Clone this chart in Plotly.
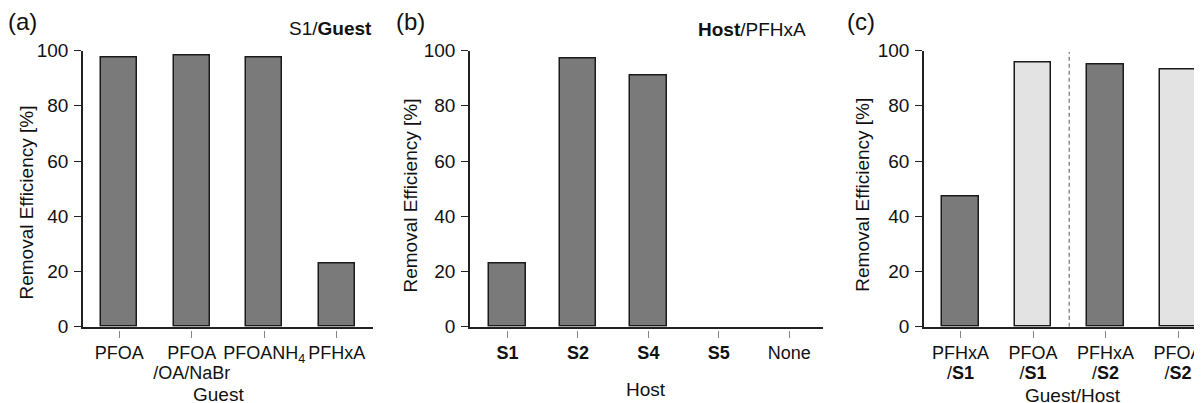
import plotly.graph_objects as go
import numpy as np

# ---- data ----
guest_line1 = ["PFOA", "PFOA", "PFOANH<sub>4</sub>", "PFHxA"]
guest_line2 = ["", "/OA/NaBr", "", ""]
guest_values = [97.6, 98.2, 97.6, 23.0]

host_labels = ["<b>S1</b>", "<b>S2</b>", "<b>S4</b>", "<b>S5</b>", "None"]
host_values = [22.9, 97.0, 90.8, 0.0, 0.0]

gh_line1 = ["PFHxA", "PFOA", "PFHxA", "PFOA"]
gh_line2 = ["/<b>S1</b>", "/<b>S1</b>", "/<b>S2</b>", "/<b>S2</b>"]
gh_values = [47.0, 95.8, 95.1, 93.3]
gh_colors = ["#7a7a7a", "#e3e3e3", "#7a7a7a", "#e3e3e3"]

y_ticks = [0, 20, 40, 60, 80, 100]

# ---- layout helpers ----
W, H = 1202, 403
OFF = 8  # page body margin offset
FONT = "Liberation Sans, Arial, Helvetica, sans-serif"
DARK = "#7a7a7a"
EDGE = "#1a1a1a"
AXC = "#222222"
TICKC = "#888888"

def px_x(p):
    return (p - OFF) / W

def px_y(p):
    return (H - (p - OFF)) / H

ydom = [px_y(326.7), px_y(50.6)]
tickpos = px_y(329.7)

def edge_widths(vals):
    return [1.5 if v > 0 else 0 for v in vals]

fig = go.Figure()

xa = np.arange(len(guest_values))
xb = np.arange(len(host_values))
xc = np.arange(len(gh_values))

fig.add_trace(go.Bar(x=xa, y=guest_values, width=0.5,
                     marker=dict(color=DARK, line=dict(color=EDGE, width=edge_widths(guest_values))),
                     xaxis="x", yaxis="y", showlegend=False))
fig.add_trace(go.Bar(x=xb, y=host_values, width=0.518,
                     marker=dict(color=DARK, line=dict(color=EDGE, width=edge_widths(host_values))),
                     xaxis="x2", yaxis="y2", showlegend=False))
fig.add_trace(go.Bar(x=xc, y=gh_values, width=0.503,
                     marker=dict(color=gh_colors, line=dict(color=EDGE, width=edge_widths(gh_values))),
                     xaxis="x3", yaxis="y3", showlegend=False))

# invisible traces so the tick-only overlay axes are drawn
for xs, ys, xax, yax in [(xa, guest_values, "x4", "y"), (xb, host_values, "x5", "y2"), (xc, gh_values, "x6", "y3")]:
    fig.add_trace(go.Scatter(x=xs, y=ys, xaxis=xax, yaxis=yax, mode="markers",
                             marker=dict(opacity=0), showlegend=False, hoverinfo="skip"))

tickfont = dict(family=FONT, size=19, color="#111111")
xtickfont = dict(family=FONT, size=18, color="#111111")

def main_x(dom, rng, anchor, vals, text, standoff):
    return dict(domain=dom, range=rng, anchor=anchor, type="linear",
                tickmode="array", tickvals=list(vals), ticktext=text, tickangle=0,
                ticks="", showline=True, linecolor=AXC, linewidth=1.5,
                showgrid=False, zeroline=False, tickfont=xtickfont, automargin=False,
                ticklabelstandoff=standoff, fixedrange=True)

def tick_x(dom, rng, over, vals, text, standoff, show=True):
    return dict(domain=dom, range=rng, overlaying=over, anchor="free", position=tickpos,
                type="linear", tickmode="array", tickvals=list(vals), ticktext=text, tickangle=0,
                ticks="outside", ticklen=7, tickwidth=1.3, tickcolor=TICKC,
                showline=False, showgrid=False, zeroline=False, tickfont=xtickfont, automargin=False,
                showticklabels=show, ticklabelstandoff=standoff, fixedrange=True)

def main_y(anchor):
    return dict(domain=ydom, range=[0, 100], anchor=anchor, tickmode="array", tickvals=y_ticks,
                ticks="outside", ticklen=7, tickwidth=1.3, tickcolor=AXC, automargin=False,
                showline=True, linecolor=AXC, linewidth=1.5, showgrid=False, zeroline=False,
                tickfont=tickfont, ticklabelstandoff=2, fixedrange=True)

dom_a = [px_x(83), px_x(373)]
dom_b = [px_x(470), px_x(822.7)]
dom_c = [px_x(924), px_x(1202)]
rng_a = [-0.5, 3.5]
rng_b = [-0.534, 4.476]
rng_c = [-0.503, 3.33]

fig.update_layout(
    width=W, height=H, autosize=False,
    margin=dict(l=0, r=0, t=0, b=0, pad=0, autoexpand=False),
    paper_bgcolor="white", plot_bgcolor="white",
    font=dict(family=FONT, size=19, color="#111111"),
    bargap=0,
    xaxis=main_x(dom_a, rng_a, "y", xa, guest_line1, 9),
    xaxis2=main_x(dom_b, rng_b, "y2", xb, host_labels, 9),
    xaxis3=main_x(dom_c, rng_c, "y3", xc, gh_line1, 9),
    xaxis4=tick_x(dom_a, rng_a, "x", xa, guest_line2, 20),
    xaxis5=tick_x(dom_b, rng_b, "x2", xb, [""] * len(xb), 20, show=False),
    xaxis6=tick_x(dom_c, rng_c, "x3", xc, gh_line2, 20),
    yaxis=main_y("x"),
    yaxis2=main_y("x2"),
    yaxis3=main_y("x3"),
)

# dashed separator in panel (c)
fig.add_shape(type="line", xref="x3", yref="y3", x0=1.5, x1=1.5, y0=0, y1=99.5,
              line=dict(color="#8a8a8a", width=1.5, dash="4px,3px"))

def ann(text, x, y, xanchor="center", yanchor="middle", size=19, angle=0):
    fig.add_annotation(text=text, x=px_x(x), y=px_y(y), xref="paper", yref="paper",
                       xanchor=xanchor, yanchor=yanchor, showarrow=False, textangle=angle,
                       font=dict(family=FONT, size=size, color="#111111"))

# panel labels
ann("(a)", 5.5, 22, xanchor="left", size=24)
ann("(b)", 393.5, 22, xanchor="left", size=24)
ann("(c)", 844.5, 22, xanchor="left", size=24)
# panel headers
ann("S1/<b>Guest</b>", 373.5, 28, xanchor="right")
ann("<b>Host</b>/PFHxA", 808, 30, xanchor="right")
# y titles
ann("Removal Efficiency [%]", 26, 202.5, angle=-90)
ann("Removal Efficiency [%]", 410, 195.5, angle=-90)
ann("Removal Efficiency [%]", 861.7, 195, angle=-90)
# x titles
ann("Guest", 218.3, 394)
ann("Host", 646.3, 389)
ann("Guest/Host", 1072.8, 395)

fig.write_html("out.html")
